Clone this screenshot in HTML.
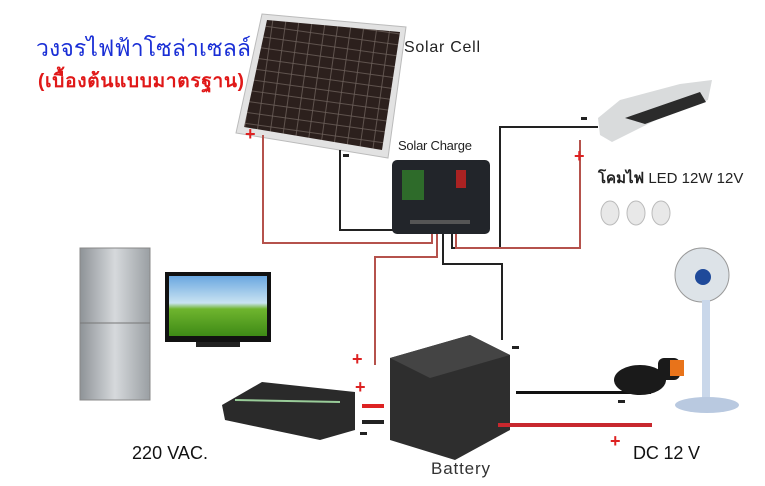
<!DOCTYPE html>
<html><head><meta charset="utf-8"><style>
html,body{margin:0;padding:0;background:#fff;width:765px;height:486px;overflow:hidden}
svg text{font-family:"Liberation Sans","Noto Sans CJK SC",sans-serif}
</style></head><body>
<svg width="765" height="486" viewBox="0 0 765 486" xmlns="http://www.w3.org/2000/svg">
<defs>
<pattern id="cells" width="13" height="11" patternUnits="userSpaceOnUse" patternTransform="rotate(8)">
<rect width="13" height="11" fill="#2c201d"/><rect width="13" height="11" fill="none" stroke="#6b5f5a" stroke-width="0.8"/></pattern>
<linearGradient id="fr" x1="0" x2="1"><stop offset="0" stop-color="#8e9397"/><stop offset=".5" stop-color="#d6d9dc"/><stop offset="1" stop-color="#9a9fa3"/></linearGradient>
<linearGradient id="sky" x1="0" y1="0" x2="0" y2="1"><stop offset="0" stop-color="#6aa7e0"/><stop offset=".45" stop-color="#c9e3f2"/><stop offset=".55" stop-color="#6fb52e"/><stop offset="1" stop-color="#3e8a16"/></linearGradient>
</defs>
<text x="36" y="56" font-size="23" fill="#1a2fd6" textLength="215">วงจรไฟฟ้าโซล่าเซลล์</text>
<text x="38" y="87" font-size="19" fill="#e01818" font-weight="bold" textLength="206">(เบื้องต้นแบบมาตรฐาน)</text>
<polygon points="262,14 406,27 388,158 236,133" fill="#e2e2e2" stroke="#bbb"/>
<polygon points="267,20 400,32 382,150 244,127" fill="url(#cells)"/>
<text x="404" y="52" font-size="16" fill="#222" textLength="76">Solar Cell</text>
<g fill="none" stroke-width="2">
<polyline points="263,135 263,243 432,243 432,232" stroke="#b5524c"/>
<polyline points="340,150 340,230 395,230" stroke="#222"/>
<polyline points="452,232 452,248 500,248 500,127 598,127" stroke="#222"/>
<polyline points="580,140 580,248 456,248 456,232" stroke="#b5524c"/>
<polyline points="437,232 437,257 375,257 375,365" stroke="#b5524c"/>
<polyline points="443,232 443,264 502,264 502,340" stroke="#222"/>
</g>
<text x="398" y="150" font-size="13" fill="#222" textLength="74">Solar Charge</text>
<rect x="392" y="160" width="98" height="74" rx="5" fill="#22252a"/>
<rect x="402" y="170" width="22" height="30" fill="#2e6b2a"/>
<rect x="456" y="170" width="10" height="18" fill="#a22"/>
<rect x="410" y="220" width="60" height="4" fill="#555"/>
<g font-size="18" font-weight="bold" fill="#d22">
<text x="245" y="140">+</text><text x="574" y="162">+</text><text x="352" y="365">+</text><text x="355" y="393">+</text><text x="610" y="447">+</text></g>
<g fill="#222"><rect x="343" y="154" width="6" height="3"/><rect x="581" y="117" width="6" height="3"/><rect x="512" y="346" width="7" height="3"/><rect x="618" y="400" width="7" height="3"/><rect x="360" y="432" width="7" height="3"/></g>
<polygon points="598,118 620,100 680,84 712,80 708,100 660,118 612,142 600,135" fill="#d9dbdc"/>
<polygon points="625,118 700,92 706,102 645,124" fill="#2b2b2b"/>
<text x="598" y="183" font-size="15" fill="#222"><tspan font-weight="bold">โคมไฟ</tspan> LED 12W 12V</text>
<g fill="#e8e8e8" stroke="#bbb"><ellipse cx="610" cy="213" rx="9" ry="12"/><ellipse cx="636" cy="213" rx="9" ry="12"/><ellipse cx="661" cy="213" rx="9" ry="12"/></g>
<rect x="80" y="248" width="70" height="152" fill="url(#fr)" stroke="#888"/>
<line x1="80" y1="323" x2="150" y2="323" stroke="#777"/>
<rect x="165" y="272" width="106" height="70" fill="#111"/>
<rect x="169" y="276" width="98" height="60" fill="url(#sky)"/>
<rect x="196" y="342" width="44" height="5" fill="#222"/>
<polygon points="222,405 262,382 355,392 355,430 320,440 225,420" fill="#2a2a2a"/>
<line x1="235" y1="400" x2="340" y2="402" stroke="#9c9" stroke-width="2"/>
<rect x="362" y="404" width="22" height="4" fill="#d22"/>
<rect x="362" y="420" width="22" height="4" fill="#222"/>
<polygon points="390,358 470,335 510,355 510,430 455,460 390,440" fill="#2e2e2e"/>
<polygon points="390,358 470,335 510,355 430,378" fill="#444"/>
<rect x="516" y="391" width="135" height="3" fill="#111"/>
<rect x="498" y="423" width="154" height="4" fill="#c8282e"/>
<ellipse cx="640" cy="380" rx="26" ry="15" fill="#1a1a1a"/>
<rect x="658" y="358" width="22" height="22" rx="6" fill="#1a1a1a"/>
<rect x="670" y="360" width="14" height="16" fill="#e8731a"/>
<circle cx="702" cy="275" r="27" fill="#dde3e8" stroke="#999"/>
<circle cx="703" cy="277" r="8" fill="#1f4a9a"/>
<rect x="702" y="300" width="8" height="100" fill="#c9d7ea"/>
<ellipse cx="707" cy="405" rx="32" ry="8" fill="#b9c9e0"/>
<text x="132" y="459" font-size="18" fill="#111" textLength="76">220 VAC.</text>
<text x="431" y="474" font-size="17" fill="#333" textLength="59">Battery</text>
<text x="633" y="459" font-size="18" fill="#111" textLength="67">DC 12 V</text>
</svg>
</body></html>
